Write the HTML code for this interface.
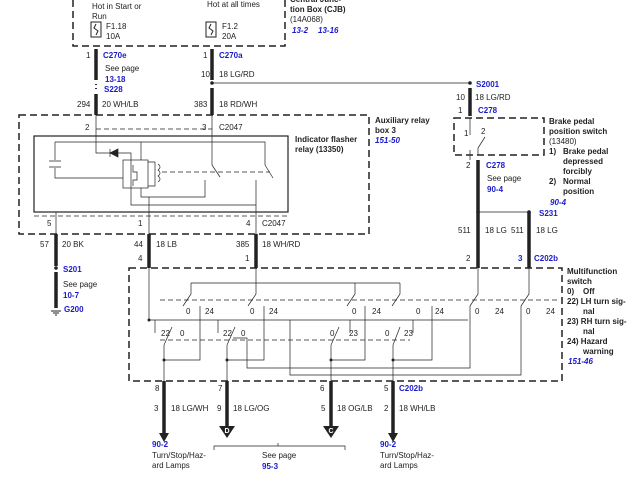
<!DOCTYPE html>
<html><head><style>
body{margin:0;background:#fff}
svg{display:block}
text{font-family:"Liberation Sans",sans-serif;font-size:8px;fill:#222}
.b{fill:#1a1acc;font-weight:bold}
.bi{fill:#1a1acc;font-weight:bold;font-style:italic}
.k{font-weight:bold}
</style></head><body>
<svg width="640" height="480" viewBox="0 0 640 480" xmlns="http://www.w3.org/2000/svg">
<g fill="none" stroke="#222">
<g stroke-width="1.5" stroke-dasharray="7,4">
<path d="M73 0 V46 H285 V0"/>
<rect x="19" y="115" width="350" height="119"/>
<rect x="454" y="118" width="90" height="37"/>
<rect x="129" y="268" width="433" height="113"/>
</g>
<rect x="34" y="136" width="254" height="76" stroke-width="1.2"/>
<rect x="91" y="22" width="10" height="15"/><path d="M96 24 l-2 4 l4 3 l-2 4"/>
<rect x="206" y="22" width="10" height="15"/><path d="M211 24 l-2 4 l4 3 l-2 4"/>
<g stroke-width="3.5">
<path d="M96 49 V80 M96 94 V115"/>
<path d="M212 49 V80 M212 88 V115"/>
<path d="M470 88 V116"/>
<path d="M478 160 V268"/>
<path d="M529 212 V268"/>
<path d="M56 234 V266 M56 272 V308"/>
<path d="M149 234 V268"/><path d="M256 234 V268"/>
<path d="M164 381 V435"/><path d="M227 381 V426"/><path d="M331 381 V426"/><path d="M393 381 V435"/>
</g>
<path d="M96 84 V90" stroke-width="2" stroke-dasharray="1,3"/>
<path d="M212 83 H470" stroke-width="0.8"/>
<path d="M478 212 H529" stroke-width="0.8"/>
<g stroke-width="0.7">
<path d="M96 115 V153 H110"/><path d="M110 149 V157 M110 153 L118 149 V157 Z" fill="#222"/>
<path d="M118 153 H131 V196"/>
<rect x="123" y="160" width="25" height="28"/>
<path d="M133 165 V172 H137 V180 H133 V186"/>
<path d="M141 142 V160 M141 188 V197 H205 V180"/>
<path d="M148 162 H155 V186 H148"/><path d="M158 164 q4 3 0 6 q4 3 0 6 q4 3 0 6"/>
<path d="M55 142 H265 V165"/>
<path d="M55 142 V160 M49 161 H61 M49 167 H61 M55 168 V178 H123"/>
<path d="M212 115 V165 M212 165 L220 177"/>
<path d="M265 165 L273 178"/>
<path d="M162 172 H270" stroke-dasharray="5,3"/>
<path d="M256 180 V212"/>
<path d="M131 196 V205 H256"/>
<path d="M56 212 V234 M149 197 V234 M256 212 V234"/>
<path d="M34 216 H288" stroke-dasharray="5,3"/>
<path d="M96 129 H212" stroke-dasharray="5,3"/>
</g>
<g stroke-width="0.7"><path d="M470 118 V135 M478 155 V148 L485 137 M470 150 V160" /></g>
<g stroke-width="0.7">
<path d="M149 268 V320 H468"/>
<path d="M256 268 V283"/>
<path d="M191 283 H400 M191 283 V294 L183 306 M256 283 V294 L248 306 M355 283 V294 L347 306 M400 283 V294 L392 306"/>
<path d="M478 268 V294 L470 306 M529 268 V294 L521 306"/>
<path d="M160 300 H560" stroke-dasharray="5,3"/>
<path d="M200 306 V360 H164 M264 306 V360 H227 M365 306 V360 H331 M432 306 V360 H393"/>
<path d="M470 306 V368 H247 V338 H233"/>
<path d="M521 306 V375 H290 V320"/>
<path d="M155 320 V333 M218 320 V333 M350 320 V333 M413 320 V333"/>
<path d="M172 327 L164 345 M235 327 L227 345 M339 327 L331 345 M400 327 L393 345"/>
<path d="M160 340 H410" stroke-dasharray="5,3"/>
<path d="M164 345 V381 M227 345 V381 M331 345 V381 M393 345 V381"/>
<path d="M214 450 V446 H345 V450 M278 446 V443"/>
</g>
</g>
<g fill="#222">
<circle cx="212" cy="83" r="1.8"/><circle cx="470" cy="83" r="1.8"/><circle cx="478" cy="212" r="1.8"/><circle cx="529" cy="212" r="1.8"/>
<circle cx="56" cy="268" r="1.8"/><circle cx="149" cy="320" r="1.5"/><circle cx="164" cy="360" r="1.5"/><circle cx="227" cy="360" r="1.5"/><circle cx="331" cy="360" r="1.5"/><circle cx="393" cy="360" r="1.5"/>
<path d="M159 433 h10 l-5 9z M388 433 h10 l-5 9z"/>
<path d="M219 426 h16 l-8 12z M323 426 h16 l-8 12z"/>
<path d="M51 311 h10 M53 313 h6 M55 315 h2" stroke="#222"/>
</g>
<text x="227" y="433" style="fill:#fff;font-size:7px;font-weight:bold" text-anchor="middle">D</text>
<text x="331" y="433" style="fill:#fff;font-size:7px;font-weight:bold" text-anchor="middle">C</text>
<text x="92" y="9">Hot in Start or</text><text x="92" y="19">Run</text>
<text x="106" y="29">F1.18</text><text x="106" y="39">10A</text>
<text x="207" y="7">Hot at all times</text>
<text x="222" y="29">F1.2</text><text x="222" y="39">20A</text>
<text x="290" y="2" class="k">Central Junc-</text><text x="290" y="12" class="k">tion Box (CJB)</text>
<text x="290" y="22">(14A068)</text>
<text x="292" y="33" class="bi">13-2</text><text x="318" y="33" class="bi">13-16</text>
<text x="86" y="58">1</text><text x="103" y="58" class="b">C270e</text>
<text x="105" y="71">See page</text><text x="105" y="82" class="b">13-18</text><text x="104" y="92" class="b">S228</text>
<text x="77" y="107">294</text><text x="102" y="107">20 WH/LB</text>
<text x="203" y="58">1</text><text x="219" y="58" class="b">C270a</text>
<text x="201" y="77">10</text><text x="219" y="77">18 LG/RD</text>
<text x="194" y="107">383</text><text x="219" y="107">18 RD/WH</text>
<text x="85" y="130">2</text><text x="202" y="130">3</text><text x="219" y="130">C2047</text>
<text x="295" y="142" class="k">Indicator flasher</text><text x="295" y="152" class="k">relay (13350)</text>
<text x="375" y="123" class="k">Auxiliary relay</text><text x="375" y="133" class="k">box 3</text><text x="375" y="143" class="bi">151-50</text>
<text x="47" y="226">5</text><text x="138" y="226">1</text><text x="246" y="226">4</text><text x="262" y="226">C2047</text>
<text x="40" y="247">57</text><text x="62" y="247">20 BK</text>
<text x="134" y="247">44</text><text x="156" y="247">18 LB</text>
<text x="236" y="247">385</text><text x="262" y="247">18 WH/RD</text>
<text x="63" y="272" class="b">S201</text><text x="63" y="287">See page</text><text x="63" y="298" class="b">10-7</text><text x="64" y="312" class="b">G200</text>
<text x="476" y="87" class="b">S2001</text>
<text x="456" y="100">10</text><text x="475" y="100">18 LG/RD</text>
<text x="458" y="113">1</text><text x="478" y="113" class="b">C278</text>
<text x="464" y="136">1</text><text x="481" y="134">2</text>
<text x="549" y="124" class="k">Brake pedal</text><text x="549" y="134" class="k">position switch</text><text x="549" y="144">(13480)</text>
<text x="549" y="154" class="k">1)</text><text x="563" y="154" class="k">Brake pedal</text><text x="563" y="164" class="k">depressed</text><text x="563" y="174" class="k">forcibly</text>
<text x="549" y="184" class="k">2)</text><text x="563" y="184" class="k">Normal</text><text x="563" y="194" class="k">position</text>
<text x="550" y="205" class="bi">90-4</text>
<text x="466" y="168">2</text><text x="486" y="168" class="b">C278</text><text x="487" y="181">See page</text><text x="487" y="192" class="b">90-4</text>
<text x="539" y="216" class="b">S231</text>
<text x="458" y="233">511</text><text x="485" y="233">18 LG</text><text x="511" y="233">511</text><text x="536" y="233">18 LG</text>
<text x="138" y="261">4</text><text x="245" y="261">1</text><text x="466" y="261">2</text><text x="518" y="261" class="b">3</text><text x="534" y="261" class="b">C202b</text>
<text x="567" y="274" class="k">Multifunction</text><text x="567" y="284" class="k">switch</text>
<text x="567" y="294" class="k">0)</text><text x="583" y="294" class="k">Off</text>
<text x="567" y="304" class="k">22) LH turn sig-</text><text x="583" y="314" class="k">nal</text>
<text x="567" y="324" class="k">23) RH turn sig-</text><text x="583" y="334" class="k">nal</text>
<text x="567" y="344" class="k">24) Hazard</text><text x="583" y="354" class="k">warning</text>
<text x="568" y="364" class="bi">151-46</text>
<g style="font-size:7.5px">
<text x="186" y="314">0</text><text x="205" y="314">24</text><text x="250" y="314">0</text><text x="269" y="314">24</text>
<text x="352" y="314">0</text><text x="372" y="314">24</text><text x="416" y="314">0</text><text x="435" y="314">24</text>
<text x="475" y="314">0</text><text x="495" y="314">24</text><text x="526" y="314">0</text><text x="546" y="314">24</text>
<text x="161" y="336">22</text><text x="180" y="336">0</text><text x="223" y="336">22</text><text x="241" y="336">0</text>
<text x="330" y="336">0</text><text x="349" y="336">23</text><text x="385" y="336">0</text><text x="404" y="336">23</text>
</g>
<text x="155" y="391">8</text><text x="218" y="391">7</text><text x="320" y="391">6</text><text x="384" y="391">5</text><text x="399" y="391" class="b">C202b</text>
<text x="154" y="411">3</text><text x="171" y="411">18 LG/WH</text>
<text x="217" y="411">9</text><text x="233" y="411">18 LG/OG</text>
<text x="321" y="411">5</text><text x="337" y="411">18 OG/LB</text>
<text x="384" y="411">2</text><text x="399" y="411">18 WH/LB</text>
<text x="152" y="447" class="b">90-2</text><text x="152" y="458">Turn/Stop/Haz-</text><text x="152" y="468">ard Lamps</text>
<text x="380" y="447" class="b">90-2</text><text x="380" y="458">Turn/Stop/Haz-</text><text x="380" y="468">ard Lamps</text>
<text x="262" y="458">See page</text><text x="262" y="469" class="b">95-3</text>
</svg>
</body></html>
